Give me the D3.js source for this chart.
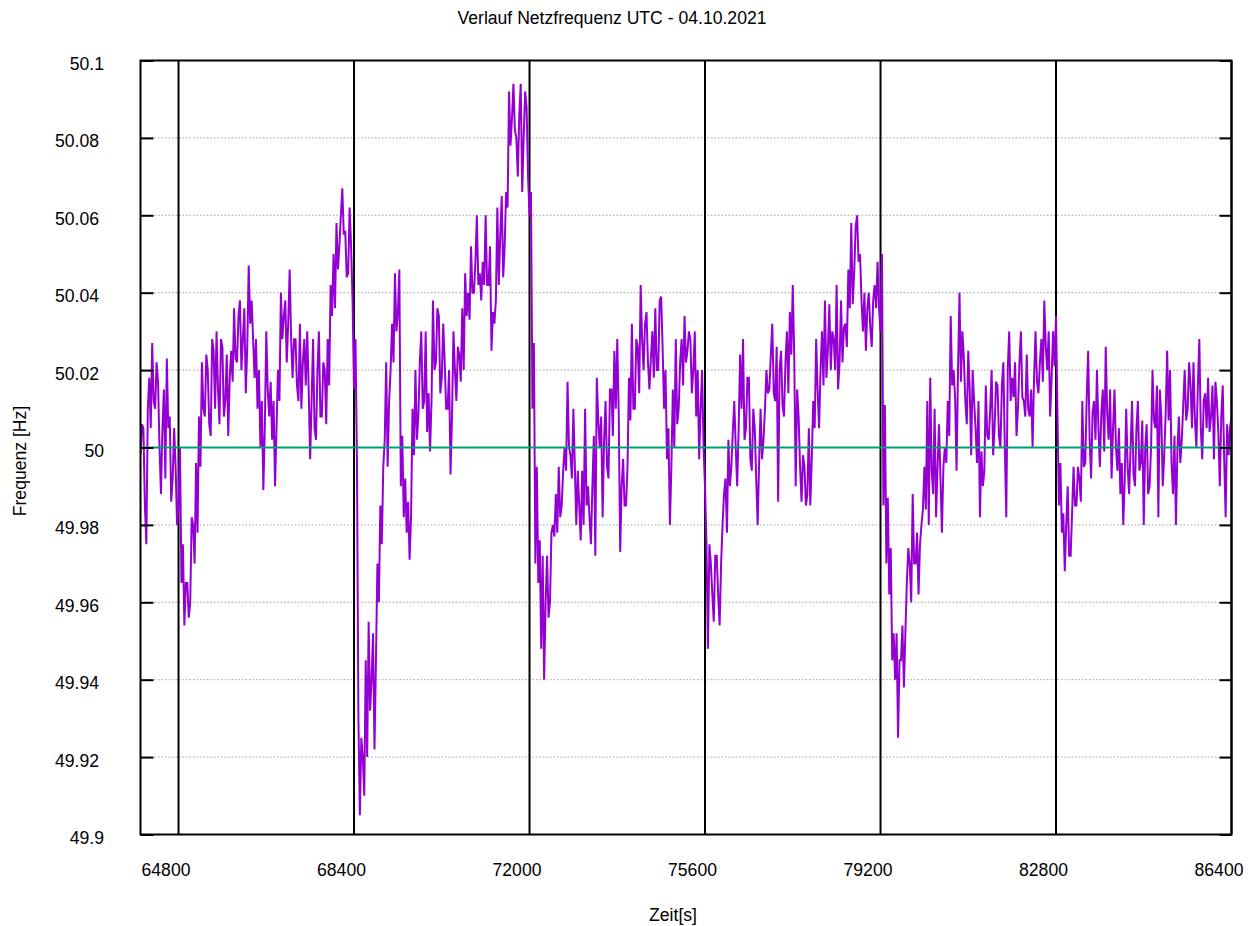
<!DOCTYPE html>
<html><head><meta charset="utf-8">
<script src="https://cdn.jsdelivr.net/npm/d3@7"></script>
<style>
body{margin:0;background:#fff;}
svg{display:block;}
text{font-family:"Liberation Sans",Arial,sans-serif;fill:#000;}
</style>
</head><body>
<svg id="chart" width="1255" height="926"></svg>
<script>
// ---------- data ----------
const chartTitle = "Verlauf Netzfrequenz UTC - 04.10.2021";
const xAxisTitle = "Zeit[s]";
const yAxisTitle = "Frequenz [Hz]";
const hourTicks = [64800, 68400, 72000, 75600, 79200, 82800, 86400];
const hourTickLabels = ["64800", "68400", "72000", "75600", "79200", "82800", "86400"];
const freqTicks = [49.9, 49.92, 49.94, 49.96, 49.98, 50, 50.02, 50.04, 50.06, 50.08, 50.1];
const freqTickLabels = ["49.9", "49.92", "49.94", "49.96", "49.98", "50", "50.02", "50.04", "50.06", "50.08", "50.1"];
const nominalFrequency = 50;
const startTime = 64020;   // first sample [s]
const stepSeconds = 30;    // sample spacing [s]
const frequency = [
49.998,50.006,50.005,49.985,49.975,50.010,50.018,50.005,50.027,50.012,
50.010,50.022,50.017,50.000,49.988,50.005,50.015,49.992,50.023,50.005,
50.008,49.986,49.992,50.005,49.995,49.980,49.985,50.000,49.965,49.975,
49.954,49.965,49.965,49.956,49.960,49.982,49.980,49.970,49.996,49.978,
50.008,49.995,50.022,50.010,50.008,50.024,50.020,50.006,50.003,50.028,
50.025,50.010,50.030,50.015,50.006,50.028,50.026,50.008,50.012,50.024,
50.003,50.018,50.025,50.017,50.036,50.023,50.022,50.034,50.038,50.020,
50.028,50.036,50.014,50.026,50.047,50.032,50.038,50.028,50.018,50.028,
50.010,50.020,50.000,50.012,49.989,50.005,50.030,50.015,50.008,50.017,
50.002,50.012,49.990,50.005,50.020,50.012,50.040,50.028,50.034,50.038,
50.022,50.032,50.046,50.028,50.018,50.028,50.028,50.016,50.012,50.032,
50.010,50.022,50.028,50.016,50.030,50.015,49.997,50.012,50.028,50.005,
50.002,50.020,50.030,50.008,50.008,50.022,50.020,50.006,50.028,50.016,
50.042,50.034,50.050,50.036,50.058,50.046,50.052,50.060,50.067,50.055,
50.056,50.044,50.045,50.062,50.052,50.038,50.015,50.028,49.997,49.930,
49.905,49.925,49.920,49.910,49.945,49.920,49.955,49.932,49.940,49.952,
49.922,49.945,49.970,49.960,49.985,49.975,49.995,50.002,50.022,49.995,
50.012,50.020,50.032,50.022,50.045,50.030,50.035,50.046,49.990,50.003,
49.982,49.992,49.978,49.986,49.971,49.982,50.010,49.998,50.020,50.002,
50.008,50.022,50.030,50.010,50.012,50.030,50.004,50.014,49.999,50.012,
50.038,50.020,50.022,50.036,50.034,50.014,50.018,50.032,50.022,50.010,
50.010,50.020,49.993,50.008,50.030,50.020,50.012,50.026,50.024,50.017,
50.036,50.020,50.045,50.034,50.040,50.033,50.052,50.040,50.040,50.048,
50.060,50.042,50.045,50.038,50.048,50.042,50.060,50.042,50.042,50.052,
50.025,50.035,50.032,50.038,50.062,50.042,50.055,50.065,50.044,50.052,
50.066,50.062,50.092,50.078,50.085,50.094,50.082,50.080,50.070,50.086,
50.094,50.066,50.080,50.092,50.088,50.070,50.060,50.066,50.010,50.027,
49.970,49.995,49.965,49.976,49.948,49.972,49.940,49.960,49.972,49.956,
49.960,49.978,49.980,49.977,49.988,49.978,49.995,49.982,49.985,49.994,
50.000,49.994,50.017,50.000,49.998,49.992,50.010,49.995,49.980,49.994,
49.985,49.976,49.994,49.980,50.010,49.985,49.990,49.982,49.975,49.990,
50.003,49.972,50.018,50.007,50.000,50.008,49.982,50.002,50.012,49.995,
49.992,50.015,50.015,50.003,50.025,50.010,50.028,50.009,49.973,49.990,
49.997,49.985,49.985,49.995,50.018,50.007,50.032,50.010,50.010,50.028,
50.026,50.014,50.042,50.028,50.020,50.032,50.035,50.022,50.015,50.023,
50.030,50.018,50.036,50.020,50.020,50.038,50.039,50.026,50.010,50.020,
49.997,50.005,49.980,49.995,50.015,50.000,50.028,50.006,50.010,50.022,
50.028,50.016,50.034,50.022,50.025,50.030,50.028,50.014,50.020,50.030,
50.008,50.020,49.997,50.010,50.020,50.000,49.990,49.975,49.948,49.975,
49.970,49.962,49.955,49.972,49.972,49.962,49.954,49.970,49.980,49.988,
49.992,49.978,50.002,49.990,49.995,50.004,50.012,50.000,49.990,50.005,
50.024,50.010,50.028,50.002,50.005,50.018,50.018,49.997,49.994,50.010,
50.005,49.992,49.980,49.996,50.010,49.997,50.002,50.010,50.020,50.014,
50.015,50.024,50.032,50.014,50.012,50.026,49.986,50.020,50.025,50.011,
50.008,50.022,50.030,50.014,50.035,50.024,50.042,50.024,49.990,50.015,
50.008,49.995,49.986,49.998,49.995,49.985,49.988,50.005,49.985,49.997,
50.012,50.005,50.028,50.015,50.005,50.020,50.030,50.016,50.038,50.018,
50.025,50.037,50.020,50.030,50.028,50.020,50.042,50.015,50.022,50.038,
50.022,50.031,50.032,50.026,50.046,50.036,50.058,50.037,50.045,50.057,
50.060,50.048,50.050,50.038,50.030,50.040,50.025,50.036,50.040,50.031,
50.026,50.038,50.042,50.036,50.048,50.036,50.030,50.050,49.985,50.011,
49.970,49.987,49.962,49.974,49.945,49.952,49.940,49.952,49.925,49.945,
49.945,49.954,49.938,49.952,49.965,49.974,49.970,49.960,49.988,49.970,
49.970,49.978,49.962,49.975,49.980,49.984,49.995,49.984,50.012,49.980,
50.018,49.994,49.988,50.010,49.982,49.995,50.006,49.992,49.978,49.995,
50.000,49.996,50.012,50.003,50.034,50.016,50.020,50.013,49.994,50.020,
50.040,50.017,50.030,50.023,50.012,50.006,50.025,50.015,49.998,50.020,
50.012,50.005,49.996,50.012,49.982,49.999,49.990,49.994,50.016,50.003,
50.002,50.010,50.020,49.998,50.005,50.017,50.016,50.003,50.000,50.016,
50.022,50.000,49.982,50.020,50.030,50.012,50.018,50.013,50.022,50.003,
50.010,50.022,50.030,50.013,50.012,50.008,50.024,50.010,50.008,50.015,
50.000,50.018,50.030,50.017,50.014,50.022,50.028,50.017,50.038,50.026,
50.020,50.030,50.008,50.018,50.030,50.021,50.034,50.009,49.985,49.996,
49.978,49.983,49.968,49.980,49.990,49.972,49.972,49.983,49.995,49.985,
49.985,49.995,49.992,49.986,50.012,49.995,49.996,50.013,50.025,50.002,
49.992,50.009,50.012,50.002,50.020,50.005,49.995,50.009,50.015,49.999,
50.026,50.009,50.002,50.015,49.992,50.005,50.015,50.000,49.994,50.005,
49.988,49.996,49.980,49.992,50.010,49.995,49.988,50.000,50.012,49.993,
49.990,50.005,50.012,49.994,49.996,50.007,49.980,50.000,50.006,49.988,
49.990,50.000,50.020,50.007,50.005,50.016,49.982,50.015,50.008,49.990,
49.998,50.009,50.025,50.007,50.020,49.996,49.988,50.003,49.980,49.999,
50.008,49.996,50.002,50.011,50.020,50.007,50.010,50.022,50.016,50.005,
50.022,50.007,50.000,50.016,50.028,50.005,49.997,50.012,50.014,50.005,
50.018,50.004,50.008,50.016,49.997,50.017,50.012,50.004,49.990,50.008,
50.016,49.997,49.982,50.006,49.998,50.005,50.008
];

// ---------- layout ----------
const svg = d3.select("#chart");
const L = 140.5, R = 1231.5, T = 60.5, B = 834.5;
const FS = "17.6px";

const x = d3.scaleLinear().domain([startTime, 86400]).range([L, R]);
const y = d3.scaleLinear().domain([49.9, 50.1]).range([B, T]);

svg.append("rect").attr("width", 1255).attr("height", 926).attr("fill", "#fff");

svg.append("defs").append("clipPath").attr("id", "plotClip")
  .append("rect").attr("x", L).attr("y", T).attr("width", R - L).attr("height", B - T);

// horizontal dotted grid
svg.append("g").selectAll("line").data(freqTicks.slice(1, -1)).join("line")
  .attr("x1", L).attr("x2", R)
  .attr("y1", d => y(d)).attr("y2", d => y(d))
  .attr("stroke", "#a0a0a0").attr("stroke-width", 1)
  .attr("stroke-dasharray", "1.5,2");

// full-hour vertical lines
svg.append("g").selectAll("line").data(hourTicks).join("line")
  .attr("x1", d => x(d)).attr("x2", d => x(d))
  .attr("y1", T).attr("y2", B)
  .attr("stroke", "#000").attr("stroke-width", 2);

// data line
const line = d3.line()
  .x((d, i) => x(startTime + i * stepSeconds))
  .y(d => y(d));
svg.append("path").datum(frequency)
  .attr("clip-path", "url(#plotClip)")
  .attr("d", line)
  .attr("fill", "none")
  .attr("stroke", "#9400d3")
  .attr("stroke-width", 2)
  .attr("stroke-linejoin", "miter")
  .attr("stroke-miterlimit", 2);

// nominal 50 Hz line
svg.append("line")
  .attr("x1", L).attr("x2", R)
  .attr("y1", y(nominalFrequency)).attr("y2", y(nominalFrequency))
  .attr("stroke", "#009e73").attr("stroke-width", 2);

// left axis (inward ticks)
const yAxisL = d3.axisLeft(y).tickValues(freqTicks)
  .tickFormat((d, i) => freqTickLabels[i]).tickSize(-13).tickPadding(36.5);
const gL = svg.append("g").attr("transform", `translate(${L},0)`).call(yAxisL);
gL.select(".domain").remove();
gL.selectAll(".tick line").attr("stroke", "#000").attr("stroke-width", 2);
gL.selectAll(".tick text")
  .attr("font-size", FS).attr("font-family", "Liberation Sans, Arial, sans-serif")
  .attr("dy", null).attr("y", 9)
  .attr("x", (d, i) => freqTickLabels[i].length === 5 ? -41.5 : -36.5);

// right axis ticks
const yAxisR = d3.axisRight(y).tickValues(freqTicks).tickFormat("").tickSize(-12);
const gR = svg.append("g").attr("transform", `translate(${R},0)`).call(yAxisR);
gR.select(".domain").remove();
gR.selectAll(".tick line").attr("stroke", "#000").attr("stroke-width", 2);

// bottom axis labels
const xAxis = d3.axisBottom(x).tickValues(hourTicks)
  .tickFormat((d, i) => hourTickLabels[i]).tickSize(0);
const gB = svg.append("g").attr("transform", `translate(0,${B})`).call(xAxis);
gB.select(".domain").remove();
gB.selectAll(".tick text")
  .attr("font-size", FS).attr("font-family", "Liberation Sans, Arial, sans-serif")
  .attr("dy", null).attr("y", 41.5).attr("x", -13);

// border
svg.append("rect").attr("x", L).attr("y", T).attr("width", R - L).attr("height", B - T)
  .attr("fill", "none").attr("stroke", "#000").attr("stroke-width", 2);

// titles
svg.append("text").attr("x", 612).attr("y", 24).attr("text-anchor", "middle")
  .style("font-size", FS).text(chartTitle);
svg.append("text").attr("x", 673).attr("y", 921).attr("text-anchor", "middle")
  .style("font-size", FS).text(xAxisTitle);
svg.append("text").attr("transform", "translate(26,461) rotate(-90)")
  .attr("text-anchor", "middle").style("font-size", FS).text(yAxisTitle);
</script>
</body></html>
